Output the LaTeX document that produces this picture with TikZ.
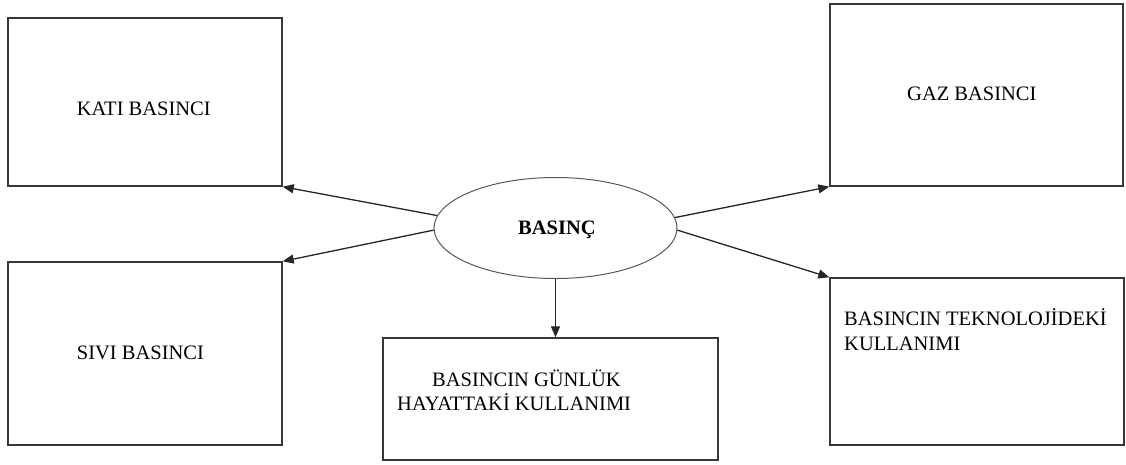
\documentclass[tikz,border=0pt]{standalone}
\usepackage{fontspec}
\setmainfont{Liberation Serif}
\usetikzlibrary{shapes.geometric,arrows.meta}
\begin{document}
\begin{tikzpicture}[x=1pt,y=-1pt,
  box/.style={draw=black!78,line width=1.4pt,rectangle,inner sep=0pt},
  lbl/.style={inner sep=0pt,anchor=base west,font=\fontsize{20.5}{24}\selectfont,text=black},
  link/.style={draw=black!85,line width=1.3pt,-{Triangle[length=11pt,width=9pt]}}]
\useasboundingbox (0,0) rectangle (1126,464);
% boxes
\node[box,minimum width=274,minimum height=168] (kati) at (145,102) {};
\node[box,minimum width=274,minimum height=183] (sivi) at (145,353.5) {};
\node[box,minimum width=293,minimum height=182] (gaz) at (976.5,95) {};
\node[box,minimum width=294,minimum height=167] (tek) at (977,361.5) {};
\node[box,minimum width=335,minimum height=122] (gun) at (550.5,399) {};
% central ellipse
\node[ellipse,draw=black!65,line width=1pt,minimum width=243,minimum height=101,inner sep=0pt] (bas) at (555.5,228) {};
% labels
\node[lbl] (tkati) at (76.7,115.7) {KATI BASINCI};
\node[lbl] (tgaz) at (907,100) {GAZ BASINCI};
\node[lbl,font=\fontsize{20.5}{24}\selectfont\bfseries] (tbas) at (518,234) {BASINÇ};
\node[lbl] (tsivi) at (76.7,359) {SIVI BASINCI};
\node[lbl] (tgun1) at (432,386.7) {BASINCIN GÜNLÜK};
\node[lbl] (tgun2) at (397,410) {HAYATTAKİ KULLANIMI};
\node[lbl] (ttek1) at (844,325) {BASINCIN TEKNOLOJİDEKİ};
\node[lbl] (ttek2) at (844,350) {KULLANIMI};
% connectors
\draw[link] (bas.174.8) -- (kati.south east);
\draw[link] (bas.181.4) -- (sivi.north east);
\draw[link] (bas.5.6) -- (gaz.south west);
\draw[link] (bas.-1.7) -- (tek.north west);
\draw[link] (bas.south) -- (bas.south |- gun.north);
\end{tikzpicture}
\end{document}
